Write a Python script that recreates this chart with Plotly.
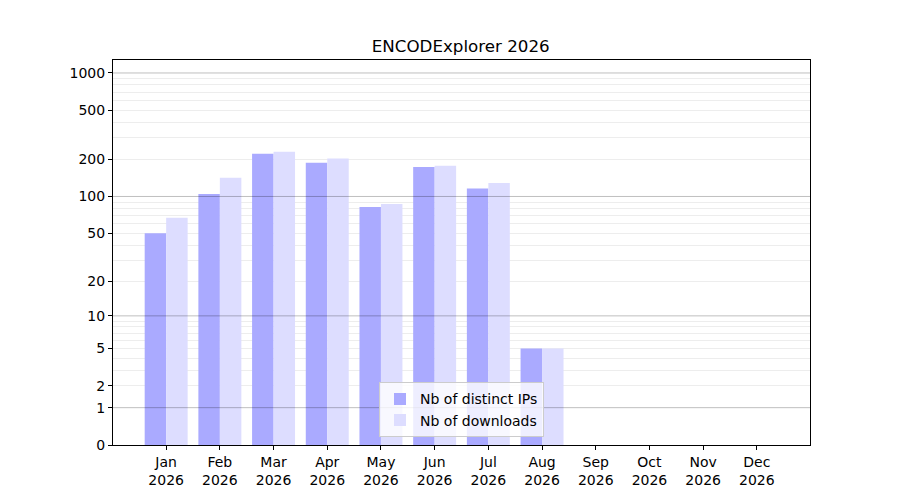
import numpy as np
import plotly.graph_objects as go

# =============================================================================
# DATA
# =============================================================================

months = ['Jan', 'Feb', 'Mar', 'Apr', 'May', 'Jun',
          'Jul', 'Aug', 'Sep', 'Oct', 'Nov', 'Dec']
year = 2026

distinct_ips = [50, 105, 222, 188, 82, 174, 116, 5, 0, 0, 0, 0]
downloads = [67, 142, 231, 203, 87, 178, 129, 5, 0, 0, 0, 0]

tick_values = [0, 1, 2, 5, 10, 20, 50, 100, 200, 500, 1000]

# =============================================================================
# SCALE: log(1 + x), drawn on a plotly log axis with values shifted by one
# =============================================================================

x_idx = list(range(len(months)))
x_labels = [f"{m}<br>{year}" for m in months]

decades = [1, 10, 100, 1000]
minor = [k * d for d in [1, 10, 100] for k in range(2, 10)]

fig = go.Figure()

fig.add_trace(go.Bar(
    x=x_idx,
    y=[v + 1 for v in distinct_ips],
    name='Nb of distinct IPs',
    marker_color='#aaaaff',
    marker_line_width=0,
))

fig.add_trace(go.Bar(
    x=x_idx,
    y=[v + 1 for v in downloads],
    name='Nb of downloads',
    marker_color='#ddddff',
    marker_line_width=0,
))

# darker grid at the decades, drawn above the bars like matplotlib's grid
for d in decades:
    fig.add_hline(y=d + 1, line_color='rgba(0,0,0,0.25)', line_width=1,
                  layer='above')

# the page body adds an 8px offset, so margins are shifted to compensate
fig.update_layout(
    width=900,
    height=500,
    barmode='group',
    bargap=0.2,
    bargroupgap=0,
    plot_bgcolor='white',
    paper_bgcolor='white',
    font=dict(family='DejaVu Sans', size=14, color='black'),
    title=dict(text='ENCODExplorer 2026', x=0.503, xanchor='center',
               y=0.924, yanchor='middle', font=dict(size=16.7)),
    margin=dict(l=105, r=98, t=52, b=63),
    legend=dict(x=0.5, xanchor='center', y=0.02, yanchor='bottom',
                bgcolor='rgba(255,255,255,0.8)', bordercolor='#cccccc',
                borderwidth=1, font=dict(size=14), tracegroupgap=0),
)

fig.update_xaxes(
    range=[-0.99, 11.99],
    tickvals=x_idx,
    ticktext=x_labels,
    ticks='outside',
    ticklen=4,
    tickcolor='black',
    showline=True,
    linecolor='black',
    linewidth=1,
    mirror=True,
    showgrid=False,
    zeroline=False,
)

fig.update_yaxes(
    type='log',
    range=[0, 3.105],
    tickvals=[t + 1 for t in tick_values],
    ticktext=[str(t) for t in tick_values],
    ticks='outside',
    ticklen=4,
    tickcolor='black',
    showline=True,
    linecolor='black',
    linewidth=1,
    mirror=True,
    showgrid=False,
    zeroline=False,
    layer='above traces',
    minor=dict(
        tickvals=[m + 1 for m in minor],
        showgrid=True,
        gridcolor='rgba(0,0,0,0.07)',
        gridwidth=1,
        ticks='',
    ),
)

fig.write_html('out.html')
